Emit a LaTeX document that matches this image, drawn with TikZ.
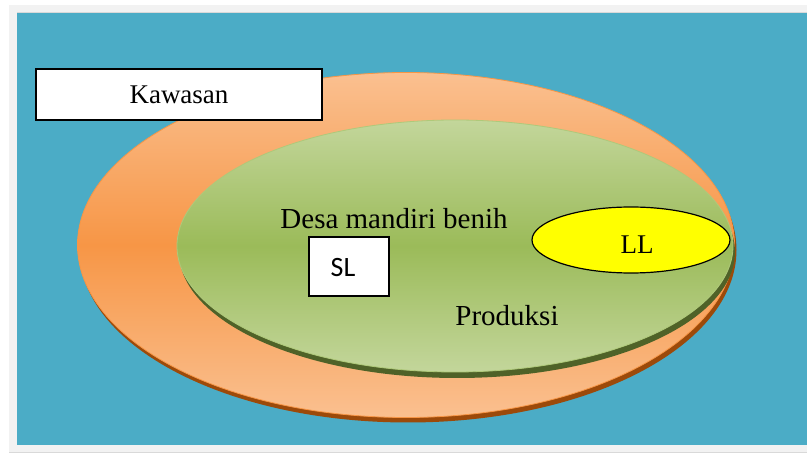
\documentclass[tikz,border=0pt]{standalone}
\usepackage{fontspec}
\setmainfont{Liberation Serif}
\newfontfamily\calib{Carlito}
\usetikzlibrary{shapes.geometric,shadows}
\definecolor{bgblue}{HTML}{4BACC6}
\definecolor{orlight}{HTML}{FAC090}
\definecolor{ordark}{HTML}{F79646}
\definecolor{orshadow}{HTML}{9C4A0A}
\definecolor{grlight}{HTML}{C3D69B}
\definecolor{grmid}{HTML}{9BBB59}
\definecolor{grshadow}{HTML}{4F6228}
\definecolor{frame}{HTML}{F2F2F2}
\definecolor{llyellow}{RGB}{255,255,0}
\tikzset{
  big/.style={font=\fontsize{27}{30}\selectfont},
  bigger/.style={font=\fontsize{29}{32}\selectfont},
  labelbox/.style={draw=black, line width=1.5pt, fill=white, inner sep=0pt},
  blob/.style={ellipse, inner sep=0pt}
}
\begin{document}
\begin{tikzpicture}[x=1pt,y=-1pt]
\useasboundingbox (0,0) rectangle (807,454);
\fill[white] (0,0) rectangle (807,454);
\fill[frame] (9,5) rectangle (807,452);
\draw[black!15, line width=0.8pt] (9,452) -- (807,452);
\draw[black!15, line width=0.8pt] (17,12.6) -- (807,12.6);
\fill[bgblue] (17,13) rectangle (807,445);

\node[blob, minimum width=657pt, minimum height=345pt,
  top color=orlight, bottom color=orlight, middle color=ordark,
  draw=ordark, line width=0.8pt,
  drop shadow={shadow xshift=2pt, shadow yshift=-5pt, fill=orshadow, opacity=1}]
  (kaw) at (406,245) {};
\node[blob, minimum width=556pt, minimum height=252pt,
  top color=grlight, bottom color=grlight, middle color=grmid,
  draw=grmid!80!white, line width=0.8pt,
  drop shadow={shadow xshift=2pt, shadow yshift=-6pt, fill=grshadow, opacity=1}]
  (desa) at (455,246) {};
\node[blob, minimum width=198pt, minimum height=66pt, fill=llyellow,
  draw=black, line width=1.2pt] (ll) at (631,240) {};
\node[big] (lltext) at (637,245) {LL};

\node[labelbox, minimum width=286pt, minimum height=51pt, big] (kawbox) at (179,94.5) {Kawasan};
\node[labelbox, minimum width=80pt, minimum height=59pt] (sl) at (349,266.5) {};
\node[font=\calib\fontsize{28}{30}\selectfont] (sltext) at (343,268) {SL};
\node[bigger] (desatext) at (394,219) {Desa mandiri benih};
\node[bigger] (prod) at (507,316) {Produksi};
\end{tikzpicture}
\end{document}
